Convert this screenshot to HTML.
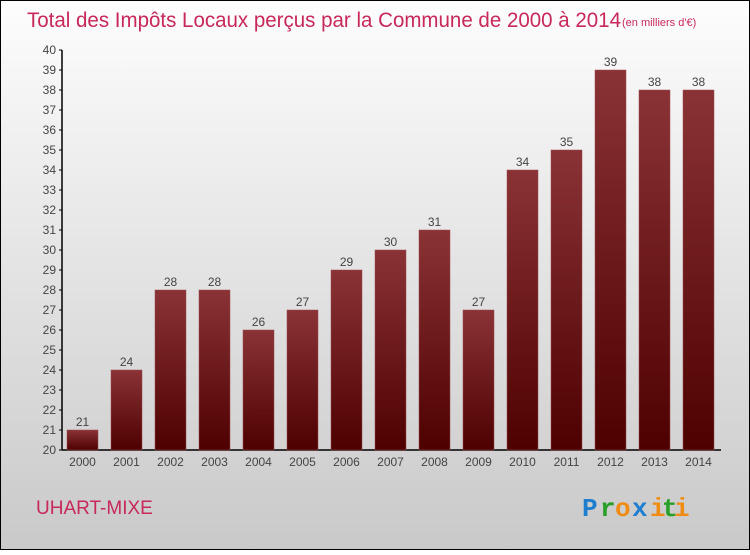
<!DOCTYPE html>
<html><head><meta charset="utf-8"><style>
html,body{margin:0;padding:0}
body{width:750px;height:550px;overflow:hidden;font-family:"Liberation Sans",sans-serif}
</style></head><body>
<svg id="c" width="750" height="550" xmlns="http://www.w3.org/2000/svg">
<defs>
<linearGradient id="bg" x1="0" y1="0" x2="0" y2="1"><stop offset="0" stop-color="#fdfdfd"/><stop offset="1" stop-color="#c9c9c9"/></linearGradient>
<linearGradient id="bar" x1="0" y1="0" x2="0" y2="1"><stop offset="0" stop-color="#8a3336"/><stop offset="1" stop-color="#4e0000"/></linearGradient>
</defs>
<rect x="0.5" y="0.5" width="749" height="549" fill="url(#bg)" stroke="#000"/>
<text x="27" y="27" font-size="21" fill="#c8285a" textLength="594" lengthAdjust="spacingAndGlyphs">Total des Impôts Locaux perçus par la Commune de 2000 à 2014</text>
<text x="622" y="26" font-size="11" fill="#c8285a">(en milliers d'€)</text>
<g id="ax"></g>
<g id="bars"></g>
<text x="36" y="514" font-size="19" fill="#c8285a">UHART-MIXE</text>
<g font-size="26" font-family="Liberation Mono, monospace" font-weight="bold">
<text x="582" y="516" fill="#1e7ed0">P</text><text x="600" y="516" fill="#28a028">r</text><text x="615" y="516" fill="#f08c14">o</text><text x="632" y="516" fill="#1e7ed0">x</text><text x="650" y="516" fill="#f08c14">i</text><text x="662" y="516" fill="#28a028">t</text><text x="674" y="516" fill="#f08c14">i</text>
</g>
</svg>
<script>
const years=["2000","2001","2002","2003","2004","2005","2006","2007","2008","2009","2010","2011","2012","2013","2014"];
const values=[21,24,28,28,26,27,29,30,31,27,34,35,39,38,38];
const yTicks=[20,21,22,23,24,25,26,27,28,29,30,31,32,33,34,35,36,37,38,39,40];
const NS="http://www.w3.org/2000/svg";
const y0=450,ppu=20,vmin=20;
const ys=v=>y0-(v-vmin)*ppu;
const xs=i=>82+i*44;
function mk(t,a,p){const e=document.createElementNS(NS,t);for(const k in a)e.setAttribute(k,a[k]);p.appendChild(e);return e;}
const ax=document.getElementById('ax'),bars=document.getElementById('bars');
let l=mk('line',{x1:62,y1:50,x2:62,y2:450,stroke:'#000','stroke-width':1.5},ax);


l=mk('line',{x1:62,y1:450,x2:721,y2:450,stroke:'#000','stroke-width':1.5},ax);


yTicks.forEach(v=>{
 const t=mk('line',{x1:59,y1:ys(v),x2:62,y2:ys(v),stroke:'#000'},ax);
 
 
 const tx=mk('text',{x:56,y:ys(v)+4,'font-size':12,fill:'#444','text-anchor':'end'},ax);
 tx.textContent=v;
 
 
});
values.forEach((v,i)=>{
 const r=mk('rect',{x:xs(i)-15,y:ys(v),width:31,height:y0-ys(v),fill:'url(#bar)',stroke:'#9a4a4c','stroke-width':0.5},bars);
 
 
 const vt=mk('text',{x:xs(i)+0.5,y:ys(v)-4,'font-size':12,fill:'#444','text-anchor':'middle'},bars);
 vt.textContent=v;
 
 
 const xt=mk('text',{x:xs(i)+0.5,y:466,'font-size':12,fill:'#444','text-anchor':'middle'},bars);
 xt.textContent=years[i];
 
 
});
</script>
</body></html>
